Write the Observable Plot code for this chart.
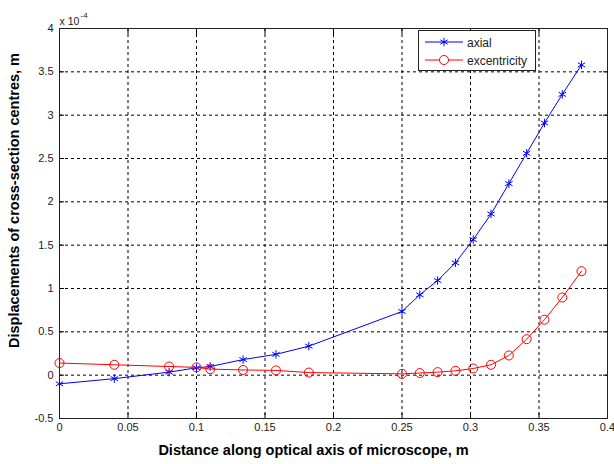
<!DOCTYPE html>
<html>
<head>
<meta charset="utf-8">
<script src="https://cdn.jsdelivr.net/npm/d3@7"></script>
<script src="https://cdn.jsdelivr.net/npm/@observablehq/plot@0.6"></script>
<style>
  html, body { margin: 0; padding: 0; background: #fff; }
  #wrap { position: relative; width: 614px; height: 464px; }
  #legend { position: absolute; left: 0; top: 0; pointer-events: none; }
</style>
</head>
<body>
<div id="wrap"></div>
<script>
// Distance along optical axis (m)
const distance = [0, 0.04, 0.08, 0.1, 0.11, 0.134, 0.158, 0.182, 0.25, 0.263, 0.276, 0.289, 0.302, 0.315, 0.328, 0.341, 0.354, 0.367, 0.381];
// Displacements in units of 1e-4 m
const axial = [-0.10, -0.04, 0.035, 0.085, 0.10, 0.18, 0.24, 0.335, 0.735, 0.927, 1.092, 1.296, 1.565, 1.86, 2.21, 2.56, 2.91, 3.24, 3.58];
const excentricity = [0.14, 0.12, 0.10, 0.09, 0.07, 0.06, 0.055, 0.03, 0.015, 0.025, 0.035, 0.05, 0.077, 0.12, 0.227, 0.415, 0.64, 0.896, 1.2];
const xTicks = [0, 0.05, 0.1, 0.15, 0.2, 0.25, 0.3, 0.35, 0.4];
const yTicks = [-0.5, 0, 0.5, 1, 1.5, 2, 2.5, 3, 3.5, 4];
const seriesNames = ["axial", "excentricity"];
const xLabel = "Distance along optical axis of microscope, m";
const yLabel = "Displacements of cross-section centres, m";
const exponentBase = "x 10";
const exponentPower = "-4";

const axialData = distance.map((x, i) => ({x, y: axial[i]}));
const excData = distance.map((x, i) => ({x, y: excentricity[i]}));

const font = "'Liberation Sans', Arial, sans-serif";
const fmt = d => String(d);
const none = () => "";

const chart = Plot.plot({
  width: 614,
  height: 464,
  marginLeft: 59,
  marginRight: 7,
  marginTop: 28,
  marginBottom: 46,
  style: {fontFamily: font, fontSize: "11px", background: "#fff", color: "#000"},
  x: {domain: [0, 0.4]},
  y: {domain: [-0.5, 4]},
  marks: [
    Plot.gridX(xTicks, {stroke: "#000", strokeOpacity: 1, strokeDasharray: "3,3", strokeWidth: 1}),
    Plot.gridY(yTicks, {stroke: "#000", strokeOpacity: 1, strokeDasharray: "3,3", strokeWidth: 1}),
    Plot.axisX(xTicks, {anchor: "bottom", tickSize: 0, tickPadding: 5, tickFormat: fmt, fill: "#222", fontSize: 11, label: null}),
    Plot.axisY(yTicks, {anchor: "left", tickSize: 0, tickPadding: 6, tickFormat: fmt, fill: "#222", fontSize: 11, label: null}),
    Plot.axisX(xTicks, {anchor: "bottom", tickSize: -5, tickFormat: none, label: null, stroke: "#000"}),
    Plot.axisX(xTicks, {anchor: "top", tickSize: -5, tickFormat: none, label: null, stroke: "#000"}),
    Plot.axisY(yTicks, {anchor: "left", tickSize: -5, tickFormat: none, label: null, stroke: "#000"}),
    Plot.axisY(yTicks, {anchor: "right", tickSize: -5, tickFormat: none, label: null, stroke: "#000"}),
    Plot.frame({stroke: "#222", strokeWidth: 1}),
    Plot.line(axialData, {x: "x", y: "y", stroke: "#0000ff", strokeWidth: 1}),
    Plot.dot(axialData, {x: "x", y: "y", symbol: "asterisk", r: 4, stroke: "#0000ff", strokeWidth: 1}),
    Plot.line(excData, {x: "x", y: "y", stroke: "#ff0000", strokeWidth: 1}),
    Plot.dot(excData, {x: "x", y: "y", symbol: "circle", r: 4.5, stroke: "#ff0000", fill: "none", strokeWidth: 1}),
    Plot.text([xLabel], {frameAnchor: "bottom", textAnchor: "middle", dx: -20, dy: 36, fontWeight: "bold", fontSize: 14.5, fill: "#000"}),
    Plot.text([yLabel], {frameAnchor: "left", textAnchor: "middle", rotate: -90, dx: -45, dy: -23, fontWeight: "bold", fontSize: 14.5, fill: "#000"}),
    Plot.text([exponentBase], {frameAnchor: "top-left", textAnchor: "start", dx: 0, dy: -11, fontSize: 10.5, fill: "#222"}),
    Plot.text([exponentPower], {frameAnchor: "top-left", textAnchor: "start", dx: 21, dy: -16, fontSize: 8, fill: "#222"})
  ]
});
document.getElementById("wrap").appendChild(chart);

// Legend overlay
const lg = d3.select("#wrap").append("svg")
  .attr("id", "legend").attr("width", 614).attr("height", 464)
  .style("font-family", font);
lg.append("rect").attr("x", 418.5).attr("y", 30.5).attr("width", 117).attr("height", 40)
  .attr("fill", "#fff").attr("stroke", "#222").attr("stroke-width", 1);
const entries = [
  {name: seriesNames[0], color: "#0000ff", symbol: d3.symbolAsterisk, r: 4, y: 42},
  {name: seriesNames[1], color: "#ff0000", symbol: d3.symbolCircle, r: 4.5, y: 60}
];
for (const e of entries) {
  lg.append("line").attr("x1", 425).attr("x2", 463).attr("y1", e.y).attr("y2", e.y)
    .attr("stroke", e.color).attr("stroke-width", 1);
  lg.append("path").attr("transform", `translate(444,${e.y})`)
    .attr("d", d3.symbol(e.symbol, e.r * e.r * Math.PI)())
    .attr("stroke", e.color).attr("fill", e.symbol === d3.symbolCircle ? "#fff" : "none");
  lg.append("text").attr("x", 467).attr("y", e.y + 4.5).attr("font-size", 12).attr("fill", "#222").text(e.name);
}
</script>
</body>
</html>
